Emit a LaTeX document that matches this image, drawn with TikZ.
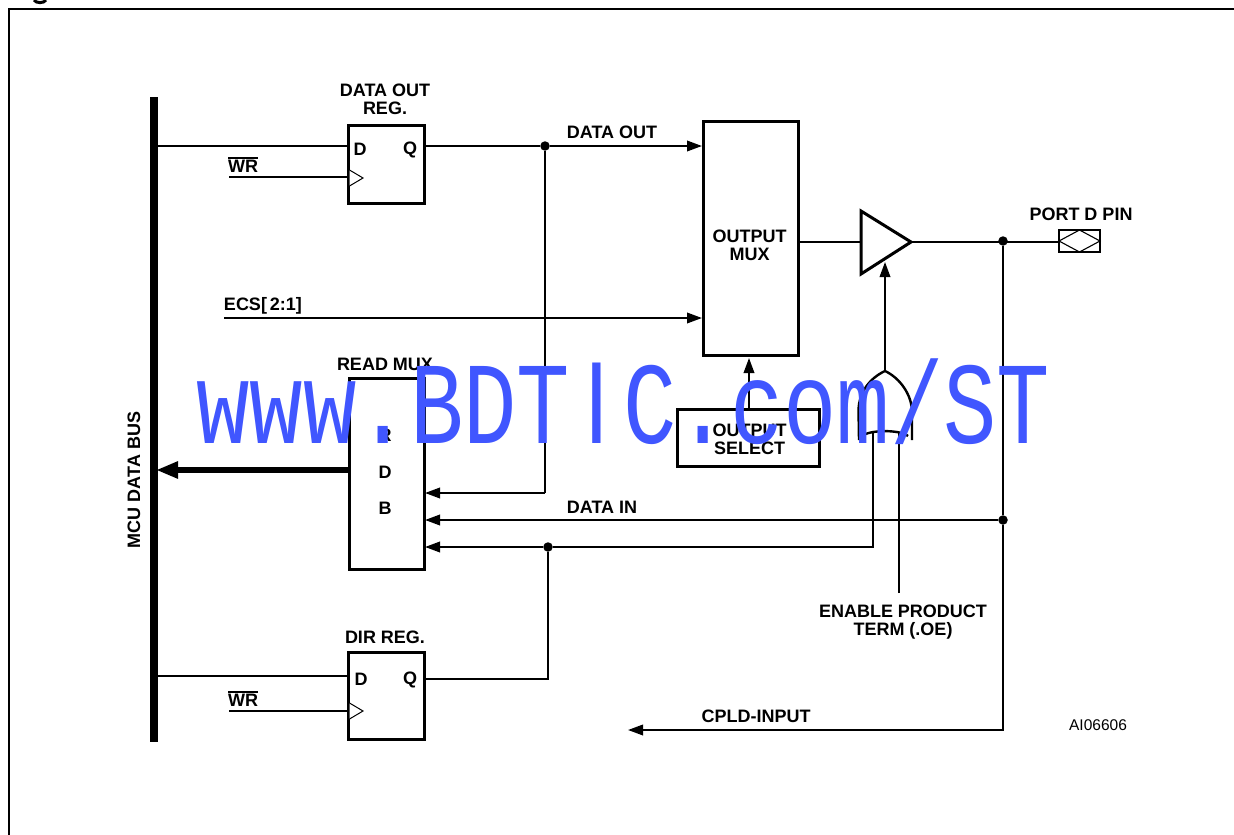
\documentclass[tikz,border=0pt]{standalone}
\usepackage{fontspec}
\setmainfont{Liberation Sans}
\newfontfamily\wmfont{Liberation Mono}
\newfontfamily\wmsans{Liberation Sans}
\usetikzlibrary{arrows.meta}
\definecolor{wmblue}{RGB}{64,86,255}
\tikzset{
  x=1pt,y=-1pt,
  box/.style={draw=black,line width=3pt,fill=white,inner sep=0pt,outer sep=0pt},
  wire/.style={draw=black,line width=2pt},
  arr/.style={wire,-{Triangle[length=15pt,width=10.5pt]},shorten >=1pt},
  lab/.style={font=\bfseries\fontsize{18}{18.5}\selectfont,inner sep=0pt,align=center,text=black},
  dotj/.style={circle,fill=black,draw=none,minimum size=9.5pt,inner sep=0pt},
  clk/.style={draw=black,line width=1pt,fill=white},
  gateline/.style={draw=black,line width=3pt,line join=miter},
}
\newcommand{\wrbar}{\leavevmode\hbox{\vbox{\hrule height 1.4pt \kern 1.6pt \hbox{WR}}}}
\begin{document}
\begin{tikzpicture}
\useasboundingbox (0,0) rectangle (1234,835);
% outer frame, cut by the page
\coordinate (fBL) at (9,835);
\coordinate (fTL) at (9,9);
\coordinate (fTR) at (1234,9);
\draw[black,line width=2.2pt] (fBL) -- (fTL) -- (fTR);
\draw[black,line width=3pt] (34,0) .. controls (36,3.5) and (44,3.5) .. (46,0);
% bus
\node[fill=black,inner sep=0pt,minimum width=8pt,minimum height=645pt] (bus) at (153.5,419.5) {};
\node[lab,rotate=90] (buslab) at (134,480) {MCU DATA BUS};
% blocks
\node[box,minimum width=76pt,minimum height=78pt] (reg1) at (386,164) {};
\node[box,minimum width=95pt,minimum height=234pt] (mux) at (750.5,238) {};
\node[box,minimum width=75pt,minimum height=191pt] (rmux) at (386.5,473.5) {};
\node[box,minimum width=142pt,minimum height=57pt] (osel) at (748,437.5) {};
\node[box,minimum width=76pt,minimum height=87pt] (reg2) at (386,695.5) {};
% clock marks
\draw[clk] (349.5,170) -- (363,178) -- (349.5,186);
\draw[clk] (349.5,703) -- (363,711) -- (349.5,719);
% junctions and free ends
\node[dotj] (j1) at (545,146) {};
\node[dotj] (j2) at (1003,241) {};
\node[dotj] (j3) at (1003,520) {};
\node[dotj] (j4) at (548,547) {};
\coordinate (wr1) at (229,177);
\coordinate (wr2) at (229,711);
\coordinate (ecs) at (224,318);
\coordinate (oe) at (899,593);
\coordinate (cpld) at (627,730);
\coordinate (d1) at (157,146);
\coordinate (d2) at (157,676);
\coordinate (rb) at (545,493);
% buffer
\coordinate (bA) at (861,211);
\coordinate (bB) at (861,274);
\coordinate (bC) at (911,242);
\draw[gateline,fill=white] (bA) -- (bC) -- (bB) -- cycle;
% or gate
\coordinate (gL) at (859,440);
\coordinate (gT) at (885,371);
\coordinate (gR) at (912,440);
\coordinate (gI1) at (873,431.5);
\coordinate (gI2) at (899,431.5);
\draw[black,line width=2.4pt] (gL) -- (858.5,410) .. controls (859,392) and (870,378) .. (gT)
   .. controls (900,378) and (912,395) .. (912,412) -- (gR);
\draw[black,line width=2.4pt] (862,436) .. controls (870,429.5) and (900,429.5) .. (908,436);
% pin
\node[draw=black,line width=2.2pt,fill=white,minimum width=41pt,minimum height=22pt,inner sep=0pt,outer sep=0pt] (pin) at (1079.5,241) {};
\draw[black,line width=1.1pt] (pin.west) -- (pin.north) -- (pin.east) -- (pin.south) -- cycle;
% wires
\draw[wire] (d1) -- (reg1.west |- d1);
\draw[wire] (wr1) -- (349,177);
\draw[wire] (reg1.east |- j1) -- (j1);
\draw[arr] (j1) -- (mux.west |- j1);
\draw[arr] (ecs) -- (mux.west |- ecs);
\draw[wire] (j1) -- (rb);
\draw[arr] (rb) -- (rmux.east |- rb);
\draw[arr] (j3) -- (rmux.east |- j3);
\draw[wire] (gI1) |- (j4);
\draw[arr] (j4) -- (rmux.east |- j4);
\draw[wire] (oe) -- (gI2);
\draw[arr] (gT) -- (885,261);
\draw[wire] (mux.east |- bC) -- (861,242);
\draw[wire] (bC) -- (pin.west |- bC);
\draw[wire] (j2) -- (j3);
\draw[arr] (j3) |- (cpld);
\draw[arr] (749,409) -- (749,357);
\draw[wire] (d2) -- (reg2.west |- d2);
\draw[wire] (wr2) -- (349,711);
\draw[wire] (reg2.east |- 0,679) -| (j4);
\draw[line width=5.5pt,-{Triangle[length=22pt,width=16pt]}] (rmux.west |- 0,470) -- (156,470);
% labels
\node[lab] (t1) at (385,99.5) {DATA OUT\\REG.};
\node[lab] (t2) at (360,149) {D};
\node[lab] (t3) at (410,149.5) {Q};
\node[lab] (t4) at (243,165) {\wrbar};
\node[lab] (t5) at (612,132) {DATA OUT};
\node[lab] (t6) at (263,306) {ECS[\,2:1]};
\node[lab] (t7) at (749.5,245.5) {OUTPUT\\MUX};
\node[lab] (t8) at (1081,214.5) {PORT D PIN};
\node[lab] (t9) at (385,364) {READ MUX};
\node[lab] (t10) at (385,435) {R};
\node[lab] (t11) at (385,472) {D};
\node[lab] (t12) at (385,508) {B};
\node[lab] (t13) at (602,507) {DATA IN};
\node[lab] (t14) at (749.5,439.5) {OUTPUT\\SELECT};
\node[lab] (t15) at (903,622) {ENABLE PRODUCT\\TERM (.OE)};
\node[lab] (t16) at (385,637) {DIR REG.};
\node[lab] (t17) at (361,679) {D};
\node[lab] (t18) at (410,679.5) {Q};
\node[lab] (t19) at (243,699) {\wrbar};
\node[lab] (t20) at (756,716) {CPLD-INPUT};
\node[inner sep=0pt,font=\fontsize{15.5}{17}\selectfont] (t21) at (1098,725) {AI06606};
% watermark
\node[inner sep=0pt,text=wmblue,anchor=base] (wm) at (623.5,443) {\scalebox{0.76}[1]{\wmfont\fontsize{117}{120}\selectfont www.BDT\makebox[0.6em]{\wmsans I}C.com/ST}};
\end{tikzpicture}
\end{document}
